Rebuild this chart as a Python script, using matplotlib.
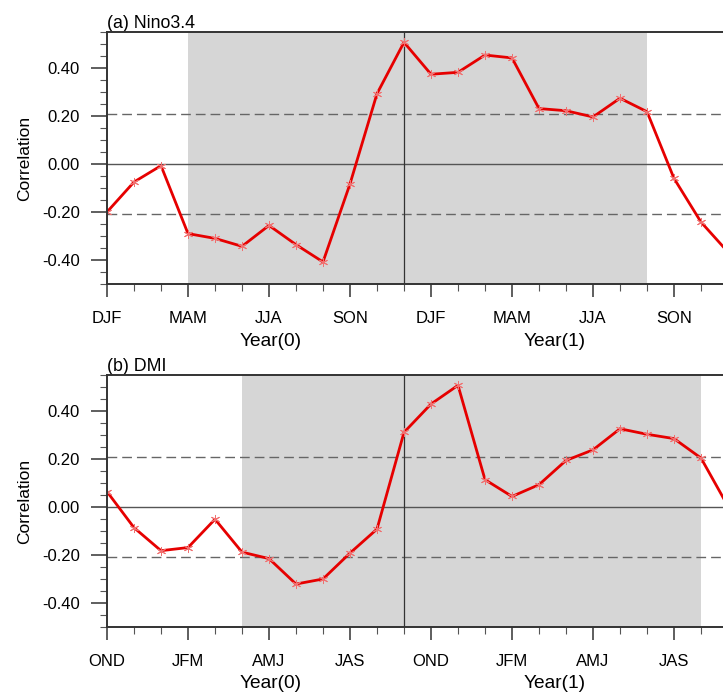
import numpy as np
import matplotlib
matplotlib.use('Agg')
import matplotlib.pyplot as plt
from matplotlib.ticker import MultipleLocator, FormatStrFormatter

plt.rcParams['font.family'] = ['Liberation Sans', 'DejaVu Sans']

# running 3-month seasons, year(0) -> year(1)
months = np.arange(24)

nino_corr = [-0.20, -0.075, -0.007, -0.29, -0.31, -0.343, -0.256, -0.336,
             -0.408, -0.083, 0.293, 0.507, 0.374, 0.382, 0.454, 0.442,
             0.231, 0.222, 0.196, 0.274, 0.218, -0.06, -0.242, -0.367]
dmi_corr = [0.064, -0.086, -0.182, -0.169, -0.051, -0.188, -0.215, -0.321,
            -0.30, -0.192, -0.092, 0.311, 0.429, 0.507, 0.114, 0.044,
            0.093, 0.194, 0.238, 0.326, 0.303, 0.285, 0.204, 0.003]

nino_ticks = ['DJF', 'MAM', 'JJA', 'SON', 'DJF', 'MAM', 'JJA', 'SON']
dmi_ticks = ['OND', 'JFM', 'AMJ', 'JAS', 'OND', 'JFM', 'AMJ', 'JAS']

nino_shade = (3, 20)
dmi_shade = (5, 22)
sig_level = 0.207
year_split = 11

W, H = 723, 694
fig = plt.figure(figsize=(W / 100, H / 100), dpi=100)


def panel(top_px, corr, ticks, shade, title):
    ax = fig.add_axes([107 / W, 1 - (top_px + 252) / H, 621 / W, 252 / H])
    ax.set_xlim(0, 23)
    ax.set_ylim(-0.5, 0.55)
    ax.axvspan(shade[0], shade[1], color='#d6d6d6', lw=0, zorder=0)
    ax.axhline(0, color='#555555', lw=1.0, zorder=1)
    for s in (sig_level, -sig_level):
        ax.axhline(s, color='#666666', lw=1.0, dashes=(7, 3.6), zorder=1)
    ax.axvline(year_split, color='#333333', lw=0.9, zorder=1)
    ax.plot(months, corr, color='#e60000', lw=2.0, zorder=3)
    ax.plot(months, corr, ls='none', marker=(6, 2, 0), ms=6.5, mew=0.7,
            color='#f07070', zorder=4)

    ax.set_xticks(np.arange(0, 24, 3))
    ax.set_xticklabels(ticks)
    ax.xaxis.set_minor_locator(MultipleLocator(1))
    ax.yaxis.set_major_locator(MultipleLocator(0.2))
    ax.yaxis.set_minor_locator(MultipleLocator(0.05))
    ax.yaxis.set_major_formatter(FormatStrFormatter('%.2f'))
    ax.tick_params(axis='y', which='major', length=11.5, width=1.1, pad=8,
                   labelsize=12, color='#333333')
    ax.tick_params(axis='y', which='minor', length=5, width=0.8, color='#555555')
    ax.tick_params(axis='x', which='major', length=9.5, width=1.1, pad=10,
                   labelsize=12, color='#333333')
    ax.tick_params(axis='x', which='minor', length=5, width=0.8, color='#555555')
    for sp in ax.spines.values():
        sp.set_color('#333333')
        sp.set_linewidth(1.4)
        sp.set_zorder(5)

    ax.set_ylabel('Correlation', fontsize=12.5)
    ax.yaxis.set_label_coords(-0.121, 0.5)
    ax.set_title(title, loc='left', fontsize=12.8, pad=3)
    return ax


panel(32, nino_corr, nino_ticks, nino_shade, '(a) Nino3.4')
panel(375, dmi_corr, dmi_ticks, dmi_shade, '(b) DMI')

for yc in (341, 684):
    fig.text(271 / W, 1 - yc / H, 'Year(0)', ha='center', va='center', fontsize=13.8)
    fig.text(555 / W, 1 - yc / H, 'Year(1)', ha='center', va='center', fontsize=13.8)

fig.savefig('out.png', dpi=100)
